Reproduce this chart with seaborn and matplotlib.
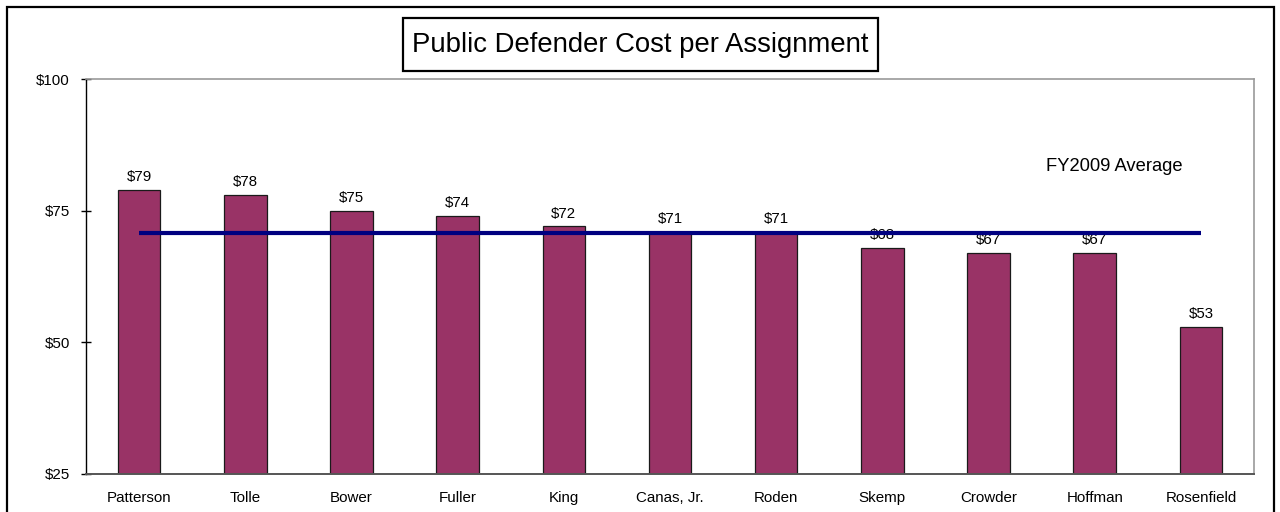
import matplotlib
matplotlib.use('Agg')
import matplotlib.pyplot as plt
import seaborn as sns
import pandas as pd
from matplotlib.patches import Rectangle

# data
names = ['Patterson', 'Tolle', 'Bower', 'Fuller', 'King', 'Canas, Jr.', 'Roden',
         'Skemp', 'Crowder', 'Hoffman', 'Rosenfield']
cost = [79, 78, 75, 74, 72, 71, 71, 68, 67, 67, 53]
fy_average = 70.8
y_ticks = [25, 50, 75, 100]

df = pd.DataFrame({'name': names, 'cost': cost})

sns.set_style('white')
plt.rcParams['font.family'] = ['Liberation Sans', 'DejaVu Sans']
plt.rcParams['text.color'] = 'black'
plt.rcParams['xtick.color'] = 'black'
plt.rcParams['ytick.color'] = 'black'

fig = plt.figure(figsize=(12.8, 5.12), dpi=100)
ax = fig.add_axes([86/1280, 1 - 474/512, (1254 - 86)/1280, (474 - 79)/512])

sns.barplot(x='name', y='cost', data=df, color='#993366', width=0.4,
            edgecolor='#1a1a1a', linewidth=0.9, saturation=1, ax=ax)

# average line from first to last bar
ax.plot([0, len(names) - 1], [fy_average, fy_average], color='#000080', lw=3,
        solid_capstyle='butt', zorder=5)
ax.text(9.18, 83.3, 'FY2009 Average', ha='center', va='center', fontsize=13.2)

# value labels
for i, v in enumerate(cost):
    ax.text(i, v + 1.1, f'${v}', ha='center', va='bottom', fontsize=10.8)

ax.set_ylim(25, 100)
ax.set_xlim(-0.5, len(names) - 0.5)
ax.set_yticks(y_ticks)
ax.set_yticklabels([f'${t}' for t in y_ticks], fontsize=10.9)
ax.set_xticks(range(len(names)))
ax.set_xticklabels(names, fontsize=10.9)
ax.set_xlabel('')
ax.set_ylabel('')

# category boundary ticks on the x axis
ax.set_xticks([i + 0.5 for i in range(len(names))], minor=True)
ax.tick_params(axis='x', which='major', length=0, pad=12)
ax.tick_params(axis='x', which='minor', direction='inout', length=7, width=1, color='#222222')
ax.tick_params(axis='y', direction='inout', length=7, width=1, color='black', pad=8, left=True)

for s in ['top', 'right']:
    ax.spines[s].set_color('#999999')
    ax.spines[s].set_linewidth(1.2)
ax.spines['left'].set_color('black')
ax.spines['left'].set_linewidth(1)
ax.spines['bottom'].set_color('#555555')
ax.spines['bottom'].set_linewidth(1.4)

# outer chart border
fig.patches.append(Rectangle((7/1280, -0.05), (1274 - 7)/1280, 1.05 - 7/512,
                             transform=fig.transFigure, fill=False, ec='black', lw=1.6))

# title box
fig.patches.append(Rectangle((403/1280, 1 - 71/512), 475/1280, 53/512,
                             transform=fig.transFigure, fill=False, ec='black', lw=1.6))
fig.text(640.5/1280, 1 - 45.5/512, 'Public Defender Cost per Assignment',
         ha='center', va='center', fontsize=19.8)

fig.savefig('out.png', dpi=100)
